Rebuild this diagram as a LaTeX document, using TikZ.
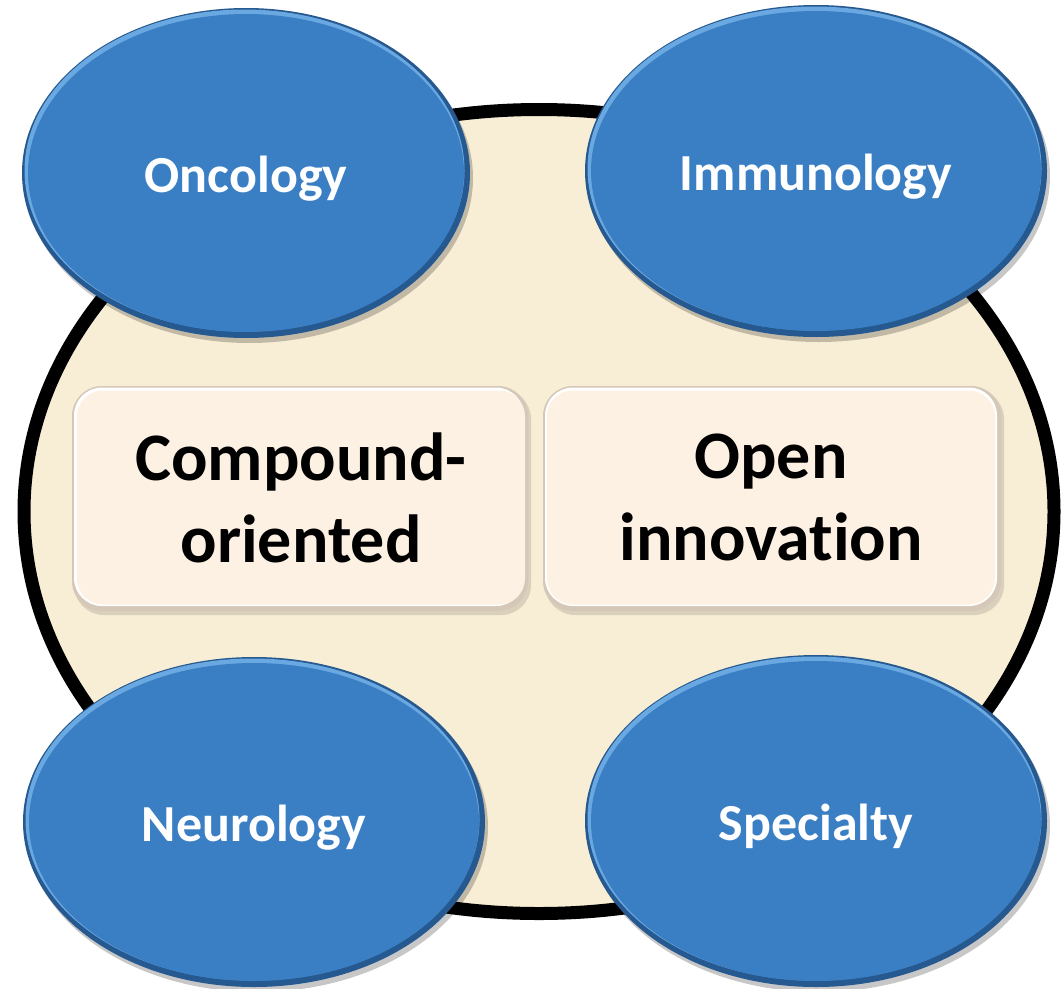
\documentclass[tikz,border=0pt]{standalone}
\usepackage{fontspec}
\setmainfont[Ligatures=NoCommon]{Carlito}
\usetikzlibrary{shapes.geometric}
\definecolor{hubfill}{HTML}{F8EED5}
\definecolor{blobmain}{HTML}{3A7EC4}
\definecolor{blobrim}{HTML}{25598F}
\definecolor{blobhi}{HTML}{6AA8E2}
\definecolor{boxmain}{HTML}{FDF1E3}
\definecolor{boxrim}{HTML}{D5C8B8}
\tikzset{
  hub/.style={ellipse, draw=black, line width=13pt, fill=hubfill,
    minimum width=1030pt, minimum height=804pt, inner sep=0pt},
  blob/.style={ellipse, fill=blobmain, inner sep=0pt, text=white,
    text height=39pt, text depth=0pt,
    font=\bfseries\fontsize{52}{60}\selectfont},
  boxlabel/.style={rounded corners=26pt, fill=boxmain, inner sep=0pt,
    minimum width=448pt, minimum height=214pt, align=center, text=black,
    font=\bfseries\fontsize{68}{82}\selectfont},
}
% shadow + bevel layers behind an ellipse (cx,cy,rx,ry)
\newcommand{\bevelblob}[4]{%
  \fill[black, opacity=0.22] (#1+3,#2+5) ellipse [x radius=#3, y radius=#4];
  \fill[blobrim] (#1,#2) ellipse [x radius=#3, y radius=#4];
  \fill[blobhi] (#1-1.5,#2-2.5) ellipse [x radius=#3-4, y radius=#4-4];
}
% shadow + bevel layers behind a rounded box (x1,y1,x2,y2)
\newcommand{\bevelbox}[4]{%
  \fill[black, opacity=0.12, rounded corners=30pt] (#1+2,#2+3) rectangle (#3+3,#4+4);
  \fill[boxrim, rounded corners=30pt] (#1,#2) rectangle (#3,#4);
  \fill[white, rounded corners=28pt] (#1+2,#2+1.5) rectangle (#3-4,#4-5);
}
\begin{document}
\begin{tikzpicture}[x=1pt,y=-1pt]
\useasboundingbox (0,0) rectangle (1064,988);

\node[hub] (hubring) at (539,511.5) {};

\bevelbox{72}{386}{528}{611}
\node[boxlabel] (comp) at (301,497.5) {Compound-\\oriented};
\bevelbox{543}{386}{1001}{611}
\node[boxlabel] (open) at (771,497.5) {Open\\innovation};

\bevelblob{246}{173}{224}{165}
\node[blob, minimum width=436pt, minimum height=318pt] (onc) at (246,173) {Oncology};
\bevelblob{816}{171}{231}{166}
\node[blob, minimum width=450pt, minimum height=320pt] (imm) at (816,171) {Immunology};
\bevelblob{254}{822}{231}{165}
\node[blob, minimum width=450pt, minimum height=318pt] (neu) at (254,822) {Neurology};
\bevelblob{816}{821}{231}{166}
\node[blob, minimum width=450pt, minimum height=320pt] (spe) at (816,821) {Specialty};
\end{tikzpicture}
\end{document}
